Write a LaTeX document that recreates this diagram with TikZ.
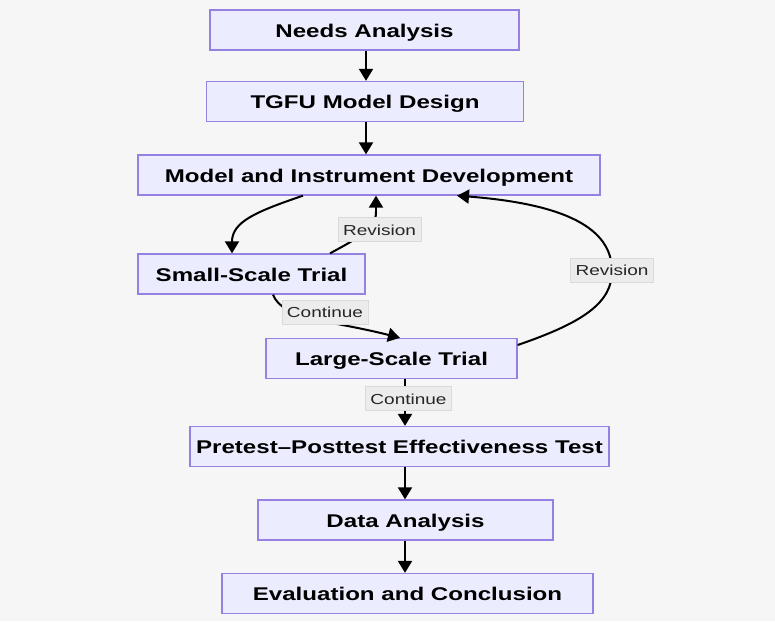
\documentclass[tikz,border=0pt]{standalone}
\usepackage{fontspec}
\setmainfont{Liberation Sans}[FakeStretch=1.31]
\usetikzlibrary{arrows.meta}
\definecolor{boxfill}{RGB}{236,236,255}
\definecolor{boxline}{RGB}{150,128,225}
\definecolor{bgcol}{RGB}{246,246,246}
\definecolor{lblfill}{RGB}{236,236,236}
\definecolor{lblline}{RGB}{218,218,218}
\tikzset{
  stepbox/.style={draw=boxline, fill=boxfill, line width=1.3pt, minimum height=40pt,
    inner sep=0pt, text height=14.5pt, text depth=0pt,
    font=\fontsize{18.4}{20}\selectfont\bfseries, text=black},
  flow/.style={line width=2pt, -{Triangle[width=14pt,length=12pt]}},
  plain/.style={line width=2pt},
  elabel/.style={fill=lblfill, draw=lblline, line width=0.6pt, inner xsep=5pt, minimum height=24pt,
    text height=11.5pt, text depth=0pt,
    font=\fontsize{14.5}{16}\selectfont, text=black!85}
}
\begin{document}
\begin{tikzpicture}[x=1pt,y=-1pt]
\fill[bgcol] (0,0) rectangle (775,621);
\useasboundingbox (0,0) rectangle (775,621);

\node[stepbox, minimum width=309pt] (na) at (364.5,30) {Needs Analysis};
\node[stepbox, minimum width=317pt] (tg) at (365,101.5) {TGFU Model Design};
\node[stepbox, minimum width=462pt] (mi) at (369,175) {Model and Instrument Development};
\node[stepbox, minimum width=227pt] (ss) at (251.5,274) {Small-Scale Trial};
\node[stepbox, minimum width=251pt] (ls) at (391.5,358.5) {Large-Scale Trial};
\node[stepbox, minimum width=419pt] (pp) at (399.5,446.5) {Pretest--Posttest Effectiveness Test};
\node[stepbox, minimum width=295pt] (da) at (405.5,520) {Data Analysis};
\node[stepbox, minimum width=371pt] (ev) at (407.5,593.5) {Evaluation and Conclusion};

\draw[flow] (na.south -| 366,0) -- (tg.north -| 366,0);
\draw[flow] (tg.south -| 366,0) -- (mi.north -| 366,0);

% Model -> Small-Scale
\draw[flow] (mi.south -| 303,0) .. controls (255,212) and (232,222) .. (ss.north -| 232,0);

% Small-Scale -> Model (Revision)
\coordinate (r1a) at (376,212);
\draw[plain] (ss.north -| 330,0) .. controls (362,236) and (376,228) .. (r1a);
\draw[flow] (r1a) -- (mi.south -| 376,0);
\node[elabel] (rev1) at (379.5,229.5) {Revision};

% Small-Scale -> Large-Scale (Continue)
\draw[flow] (ss.south -| 273,0) .. controls (283,320) and (330,320) .. (ls.north -| 400,0);
\node[elabel] (con1) at (325,312) {Continue};

% Large-Scale -> Model (Revision)
\coordinate (r2m) at (612,271);
\draw[plain] (ls.east |- 0,345) .. controls (585,322) and (612,302) .. (r2m);
\draw[flow] (r2m) .. controls (612,228) and (565,204) .. (mi.south -| 457,0);
\node[elabel] (rev2) at (612,270) {Revision};

% Large-Scale -> Pretest (Continue)
\draw[flow] (ls.south -| 405,0) -- (pp.north -| 405,0);
\node[elabel] (con2) at (408.5,398.5) {Continue};

\draw[flow] (pp.south -| 405,0) -- (da.north -| 405,0);
\draw[flow] (da.south -| 405,0) -- (ev.north -| 405,0);
\end{tikzpicture}
\end{document}
